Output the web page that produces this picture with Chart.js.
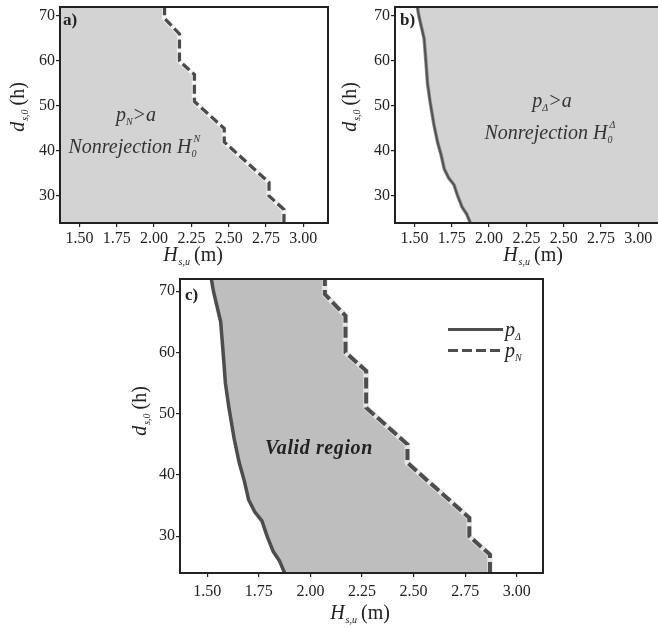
<!DOCTYPE html>
<html>
<head>
<meta charset="utf-8">
<script src="https://cdn.jsdelivr.net/npm/chart.js@4.4.0/dist/chart.umd.min.js"></script>
<style>
  body { margin: 0; width: 658px; height: 628px; overflow: hidden; position: relative; background: #fff;
         font-family: "Liberation Serif", serif; color: #222; }
  .pane { position: absolute; }
  .t { position: absolute; white-space: nowrap; transform: translate(-50%, -50%); line-height: 1; }
  .yt { transform: translate(-50%, -50%) rotate(-90deg); }
  .ax { font-size: 20px; }
  .ax sub { font-size: 10px; font-style: italic; vertical-align: -4px; margin-left: 1px; margin-right: 4px; }
  .ann { font-size: 20px; font-style: italic; color: #333; text-align: center; line-height: 23px; }
  .ann sub, .leg sub { font-size: 10px; vertical-align: -4px; }
  .lab { position: absolute; font-weight: bold; font-size: 17px; line-height: 1; }
  .stk { display: inline-block; position: relative; width: 12px; height: 1em; vertical-align: baseline; }
  .stk .sp { position: absolute; left: 2px; top: -6px; font-size: 10px; }
  .stk .sb { position: absolute; left: 0px; top: 9px; font-size: 10px; }
  .leg { position: absolute; font-size: 20px; font-style: italic; line-height: 1; }
  .ls { position: absolute; height: 3px; }
</style>
</head>
<body>
<div class="pane" style="left:0;top:0"><canvas id="chartA" width="335" height="275"></canvas></div>
<div class="pane" style="left:330px;top:0"><canvas id="chartB" width="340" height="275"></canvas></div>
<div class="pane" style="left:120px;top:272px"><canvas id="chartC" width="430" height="356"></canvas></div>

<!-- panel a text -->
<div class="lab" style="left:63px;top:11px">a)</div>
<div class="t ax yt" style="left:18px;top:107px"><i>d</i><sub>s,0</sub>(h)</div>
<div class="t ax" style="left:193px;top:255px"><i>H</i><sub>s,u</sub>(m)</div>
<div class="t ann" style="left:136px;top:130px"><i>p</i><sub>N</sub>&gt;<i>a</i><br><i>Nonrejection H</i><span class="stk"><span class="sp">N</span><span class="sb">0</span></span></div>

<!-- panel b text -->
<div class="lab" style="left:400px;top:11px">b)</div>
<div class="t ax yt" style="left:350px;top:107px"><i>d</i><sub>s,0</sub>(h)</div>
<div class="t ax" style="left:533px;top:255px"><i>H</i><sub>s,u</sub>(m)</div>
<div class="t ann" style="left:552px;top:116px"><i>p</i><sub>&Delta;</sub>&gt;<i>a</i><br><i>Nonrejection H</i><span class="stk"><span class="sp">&Delta;</span><span class="sb">0</span></span></div>

<!-- panel c text -->
<div class="lab" style="left:185px;top:286px">c)</div>
<div class="t ax yt" style="left:140px;top:411px"><i>d</i><sub>s,0</sub>(h)</div>
<div class="t ax" style="left:360px;top:613px"><i>H</i><sub>s,u</sub>(m)</div>
<div class="t" style="left:319px;top:447px;font-size:20px;font-weight:bold;font-style:italic;letter-spacing:0.6px">Valid region</div>
<div class="ls" style="left:448px;top:328px;width:55px;background:#4d4d4d"></div>
<div class="ls" style="left:448px;top:349px;width:55px;background:repeating-linear-gradient(90deg,#4d4d4d 0 10px,transparent 10px 14px)"></div>
<div class="leg" style="left:505px;top:319px"><i>p</i><sub>&Delta;</sub></div>
<div class="leg" style="left:505px;top:340px"><i>p</i><sub>N</sub></div>

<script>
// p_N boundary (dashed), listed from bottom to top
const dHoursN = [24, 27, 30, 33, 42, 45, 51, 57, 60, 66, 69.5, 72];
const hsN = [2.87, 2.87, 2.77, 2.77, 2.47, 2.47, 2.27, 2.27, 2.17, 2.17, 2.07, 2.07];

// p_Delta boundary (solid), listed from bottom to top
const dHoursD = [24, 26, 27.5, 30, 32.5, 34, 36, 39, 42, 46, 51, 55, 60, 65, 70, 72];
const hsD = [1.875, 1.85, 1.82, 1.79, 1.765, 1.73, 1.70, 1.68, 1.655, 1.63, 1.605, 1.588, 1.577, 1.565, 1.53, 1.52];

const xTicks = [1.50, 1.75, 2.00, 2.25, 2.50, 2.75, 3.00];
const yTicks = [30, 40, 50, 60, 70];

const toPoints = (xs, ys) => xs.map((x, i) => ({ x: x, y: ys[i] }));
const ptsN = toPoints(hsN, dHoursN);
const ptsD = toPoints(hsD, dHoursD);

const ink = '#222';
const tickFont = { family: '"Liberation Serif", serif', size: 16 };

// draws the closed box around the plot area
const framePlugin = {
    id: 'frame',
    afterDraw(chart) {
        const { ctx, chartArea: a } = chart;
        ctx.save();
        ctx.strokeStyle = ink;
        ctx.lineWidth = 2;
        ctx.strokeRect(a.left, a.top, a.right - a.left, a.bottom - a.top);
        ctx.restore();
    }
};

function makeScales(xmin, xmax, yWidth, xHeight, xPad) {
    const grid = { drawOnChartArea: false, drawTicks: true, tickLength: 4, color: ink, lineWidth: 1.2 };
    return {
        x: {
            type: 'linear', min: xmin, max: xmax,
            afterBuildTicks: s => { s.ticks = xTicks.map(v => ({ value: v })); },
            afterFit: s => { s.height = xHeight; s.paddingLeft = 0; s.paddingRight = 0; },
            ticks: { callback: v => Number(v).toFixed(2), font: tickFont, color: ink, padding: xPad, maxRotation: 0, autoSkip: false },
            grid: grid,
            border: { display: false }
        },
        y: {
            type: 'linear', min: 24, max: 72,
            afterBuildTicks: s => { s.ticks = yTicks.map(v => ({ value: v })); },
            afterFit: s => { s.width = yWidth; s.paddingTop = 0; s.paddingBottom = 0; },
            ticks: { font: tickFont, color: ink, padding: 1, autoSkip: false },
            grid: grid,
            border: { display: false }
        }
    };
}

function makeChart(id, datasets, scales) {
    return new Chart(document.getElementById(id).getContext('2d'), {
        type: 'line',
        data: { datasets: datasets },
        options: {
            responsive: false,
            animation: false,
            indexAxis: 'y',
            layout: { padding: { top: 7, right: 7, left: 0, bottom: 0 } },
            elements: { point: { radius: 0 }, line: { tension: 0 } },
            plugins: { legend: { display: false }, tooltip: { enabled: false } },
            scales: scales
        },
        plugins: [framePlugin]
    });
}

// a) nonrejection region of H0^N: left of the p_N boundary
makeChart('chartA', [
    { data: ptsN, borderColor: '#f4f4f4', borderWidth: 5, fill: { value: 1.37 }, backgroundColor: '#d3d3d3', order: 1 },
    { data: ptsN, borderColor: '#4a4a4a', borderWidth: 3.2, borderDash: [9, 4], fill: false, order: 0 }
], makeScales(1.37, 3.165, 60, 52, 2));

// b) nonrejection region of H0^Delta: right of the p_Delta boundary
makeChart('chartB', [
    { data: ptsD, borderColor: '#8a8a8a', borderWidth: 3.5, fill: { value: 3.165 }, backgroundColor: '#d3d3d3', order: 1 },
    { data: ptsD, borderColor: '#505050', borderWidth: 1.8, fill: false, order: 0 }
], makeScales(1.37, 3.165, 65, 52, 2));

// c) valid region between both boundaries
makeChart('chartC', [
    { data: ptsD, borderColor: '#4d4d4d', borderWidth: 3.5, fill: false, order: 0 },
    { data: ptsN, borderColor: '#e6e6e6', borderWidth: 5.5, fill: 0, backgroundColor: '#bebebe', order: 2 },
    { data: ptsN, borderColor: '#4d4d4d', borderWidth: 4, borderDash: [11, 4], fill: false, order: 1 }
], makeScales(1.368, 3.127, 60, 55, 5));
</script>
</body>
</html>
